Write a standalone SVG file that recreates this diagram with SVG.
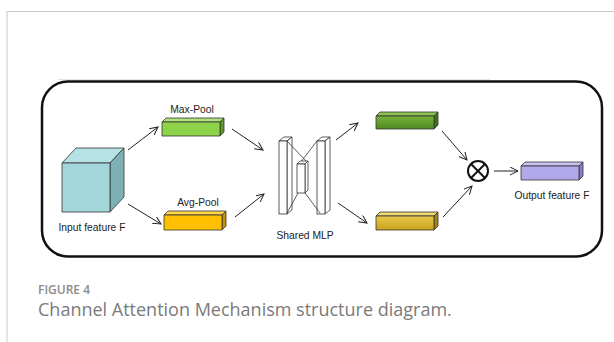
<svg xmlns="http://www.w3.org/2000/svg" width="614" height="342" viewBox="0 0 614 342">
  <defs>
    <marker id="arr" markerWidth="10" markerHeight="10" refX="8" refY="4" orient="auto" markerUnits="userSpaceOnUse">
      <path d="M0,0 L8,4 L0,8" fill="none" stroke="#222" stroke-width="1"/>
    </marker>
    <linearGradient id="gOut" x1="0" y1="0" x2="0" y2="1">
      <stop offset="0" stop-color="#79b23c"/>
      <stop offset="1" stop-color="#4f8a22"/>
    </linearGradient>
    <linearGradient id="yOut" x1="0" y1="0" x2="0" y2="1">
      <stop offset="0" stop-color="#e8c84a"/>
      <stop offset="1" stop-color="#c9a21c"/>
    </linearGradient>
  </defs>
  <style>
    .lbl { font-family: "Liberation Sans", Arial, sans-serif; font-size: 10.3px; fill: #222; }
    .edge { stroke: #333; stroke-width: 0.8; stroke-linejoin: round; }
    .con { stroke: #222; stroke-width: 1; fill: none; marker-end: url(#arr); }
    .plate { fill: #fff; stroke: #333; stroke-width: 0.8; }
  </style>

  <!-- page panel -->
  <rect width="614" height="342" fill="#fff"/>
  <path d="M7,342 V11.5 H614" fill="none" stroke="#c8c8c8" stroke-width="1"/>
  <line x1="58" y1="79.5" x2="490" y2="79.5" stroke="#e4e4e4" stroke-width="1"/>

  <!-- diagram frame -->
  <rect x="42" y="81.5" width="560" height="175" rx="26" ry="26" fill="#fff" stroke="#111" stroke-width="2.5"/>

  <!-- input cube -->
  <g id="input">
    <polygon class="edge" points="62,163 76,148 124,148 110,163" fill="#b7e2e5"/>
    <polygon class="edge" points="110,163 124,148 124,197 110,212" fill="#7fb0b4"/>
    <rect class="edge" x="62" y="163" width="48" height="49" fill="#a3d6da"/>
    <text class="lbl" x="92" y="231" text-anchor="middle">Input feature F</text>
  </g>

  <!-- max pool -->
  <g id="maxpool">
    <polygon class="edge" points="162,122 166,118 224,118 220,122" fill="#aee27a"/>
    <polygon class="edge" points="220,122 224,118 224,132 220,136" fill="#5e9a2a"/>
    <rect class="edge" x="162" y="122" width="58" height="14" fill="#8fd34a"/>
    <text class="lbl" x="192" y="113" text-anchor="middle">Max-Pool</text>
  </g>

  <!-- avg pool -->
  <g id="avgpool">
    <polygon class="edge" points="164,215 168,211 226,211 222,215" fill="#ffd54a"/>
    <polygon class="edge" points="222,215 226,211 226,226 222,230" fill="#c48f00"/>
    <rect class="edge" x="164" y="215" width="58" height="15" fill="#ffc000"/>
    <text class="lbl" x="198" y="206" text-anchor="middle">Avg-Pool</text>
  </g>

  <!-- shared MLP -->
  <g id="mlp">
    <polygon class="plate" points="279,141 284,137 292,137 287,141"/>
    <polygon class="plate" points="287,141 292,137 292,210 287,214"/>
    <rect class="plate" x="279" y="141" width="8" height="73"/>
    <polygon class="plate" points="317,141 322,137 330,137 325,141"/>
    <polygon class="plate" points="325,141 330,137 330,210 325,214"/>
    <rect class="plate" x="317" y="141" width="8" height="73"/>
    <line class="edge" x1="287" y1="141" x2="308" y2="163"/>
    <line class="edge" x1="317" y1="141" x2="300" y2="163"/>
    <line class="edge" x1="298" y1="193" x2="287" y2="213"/>
    <line class="edge" x1="305" y1="193" x2="320" y2="213"/>
    <polygon class="plate" points="297,164 300,161 308,161 305,164"/>
    <polygon class="plate" points="305,164 308,161 308,190 305,193"/>
    <rect class="plate" x="297" y="164" width="8" height="29"/>
    <text class="lbl" x="305" y="239" text-anchor="middle">Shared MLP</text>
  </g>

  <!-- MLP outputs -->
  <g id="mlp-max">
    <polygon class="edge" points="376,116 380,112 438,112 434,116" fill="#8cc454"/>
    <polygon class="edge" points="434,116 438,112 438,125 434,129" fill="#3f7418"/>
    <rect class="edge" x="376" y="116" width="58" height="13" fill="url(#gOut)"/>
  </g>
  <g id="mlp-avg">
    <polygon class="edge" points="376,216 380,212 438,212 434,216" fill="#f0d870"/>
    <polygon class="edge" points="434,216 438,212 438,226 434,230" fill="#a9850e"/>
    <rect class="edge" x="376" y="216" width="58" height="14" fill="url(#yOut)"/>
  </g>

  <!-- element-wise product -->
  <g id="mul">
    <circle cx="478" cy="171" r="10" fill="#fff" stroke="#111" stroke-width="2"/>
    <line x1="471" y1="164" x2="485" y2="178" stroke="#111" stroke-width="2"/>
    <line x1="485" y1="164" x2="471" y2="178" stroke="#111" stroke-width="2"/>
  </g>

  <!-- output -->
  <g id="output">
    <polygon class="edge" points="521,166 525,162 583,162 579,166" fill="#c8c2f0"/>
    <polygon class="edge" points="579,166 583,162 583,176 579,180" fill="#8880c8"/>
    <rect class="edge" x="521" y="166" width="58" height="14" fill="#b0a8e8"/>
    <text class="lbl" x="552" y="199" text-anchor="middle">Output feature F</text>
  </g>

  <!-- connectors -->
  <g id="connectors">
    <line class="con" x1="128" y1="150" x2="158" y2="127"/>
    <line class="con" x1="128" y1="204" x2="161" y2="224"/>
    <line class="con" x1="232" y1="129" x2="263" y2="150"/>
    <line class="con" x1="235" y1="217" x2="264" y2="194"/>
    <line class="con" x1="336" y1="140" x2="358" y2="123"/>
    <line class="con" x1="338" y1="203" x2="367" y2="223"/>
    <line class="con" x1="442" y1="131" x2="467" y2="160"/>
    <line class="con" x1="443" y1="217" x2="472" y2="186"/>
    <line class="con" x1="494" y1="171" x2="518" y2="171"/>
  </g>

  <!-- caption -->
  <text x="38" y="294" font-family="'Open Sans', sans-serif" font-size="12" font-weight="600" fill="#8a8a8a">FIGURE 4</text>
  <text x="38" y="316" font-family="'Open Sans', sans-serif" font-size="18" fill="#7a7a7a">Channel Attention Mechanism structure diagram.</text>
</svg>
